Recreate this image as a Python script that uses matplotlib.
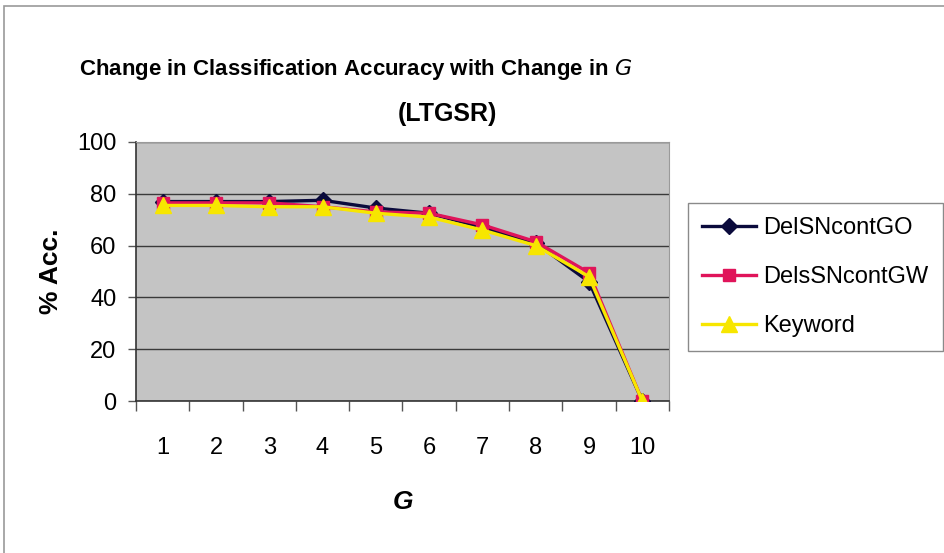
import matplotlib
matplotlib.use("Agg")
import matplotlib.pyplot as plt
from matplotlib.patches import Rectangle

plt.rcParams['font.family'] = ['Liberation Sans', 'DejaVu Sans']

categories = [1, 2, 3, 4, 5, 6, 7, 8, 9, 10]
del_sn_cont_go = [77, 77, 77, 77.5, 74.5, 72.5, 67, 61, 46, 0]
dels_sn_cont_gw = [76.5, 76.5, 76.5, 75, 73, 72.5, 68, 61.5, 49.5, 0]
keyword = [75.5, 75.5, 75, 75, 72.5, 71, 66, 60, 48, 0]
series_names = ['DelSNcontGO', 'DelsSNcontGW', 'Keyword']
y_ticks = [0, 20, 40, 60, 80, 100]

fig = plt.figure(figsize=(9.45, 5.53), dpi=100)
fig.patch.set_facecolor('white')

# outer chart border
fig.patches.append(Rectangle((4/945, -0.01), 1.0, 1 - 6/553 + 0.01, transform=fig.transFigure,
                             fill=False, edgecolor='#9a9a9a', linewidth=1.2))

ax = fig.add_axes([136/945, 1 - 401/553, (669-136)/945, (401-142)/553])
ax.set_facecolor('#c4c4c4')

x = list(range(len(categories)))
ax.plot(x, del_sn_cont_go, color='#0a0a3c', linewidth=2.4, marker='D', markersize=8,
        markerfacecolor='#0a0a3c', markeredgecolor='#0a0a3c', label=series_names[0], zorder=3)
ax.plot(x, dels_sn_cont_gw, color='#e0145a', linewidth=2.4, marker='s', markersize=9,
        markerfacecolor='#e0145a', markeredgecolor='#e0145a', label=series_names[1], zorder=4)
ax.plot(x, keyword, color='#f7e600', linewidth=2.4, marker='^', markersize=11,
        markerfacecolor='#f7e600', markeredgecolor='#f7e600', label=series_names[2], zorder=5)

ax.set_ylim(0, 100)
ax.set_xlim(-0.5, len(categories) - 0.5)
ax.set_yticks(y_ticks)
ax.set_yticklabels([str(v) for v in y_ticks], fontsize=17)
ax.yaxis.grid(True, color='#3a3a3a', linewidth=1.0)
ax.set_axisbelow(True)

ax.set_xticks(x)
ax.set_xticklabels([str(c) for c in categories], fontsize=17)
ax.set_xticks([i - 0.5 for i in range(len(categories) + 1)], minor=True)
ax.tick_params(axis='x', which='major', length=0, pad=26)
ax.tick_params(axis='x', which='minor', length=7, width=1, color='#555555', direction='out')
ax.tick_params(axis='y', length=6, width=1, color='#555555', pad=8)

for side in ['top', 'right']:
    ax.spines[side].set_color('#9a9a9a')
    ax.spines[side].set_linewidth(0.8)
ax.spines['left'].set_color('#333333')
ax.spines['bottom'].set_color('#333333')
ax.spines['left'].set_linewidth(1.2)
ax.spines['bottom'].set_linewidth(1.2)

ax.set_ylabel('% Acc.', fontsize=19, fontweight='bold', labelpad=10)
ax.set_xlabel('G', fontsize=19, fontweight='bold', fontstyle='italic', labelpad=22)

fig.text(356/945, 1 - 70/553, r'Change in Classification Accuracy with Change in $\mathbf{\mathit{G}}$',
         ha='center', va='center', fontsize=16, fontweight='bold')
fig.text(447/945, 1 - 114/553, '(LTGSR)', ha='center', va='center', fontsize=18, fontweight='bold')

leg = ax.legend(loc='center left', bbox_to_anchor=(688/945, 1 - 277/553), bbox_transform=fig.transFigure,
                fontsize=17, frameon=True, fancybox=False, edgecolor='#8a8a8a', framealpha=1,
                handlelength=2.3, labelspacing=1.15, borderpad=0.6, handletextpad=0.3, borderaxespad=0)
leg.get_frame().set_linewidth(1.0)

fig.savefig('out.png', dpi=100, facecolor='white')
